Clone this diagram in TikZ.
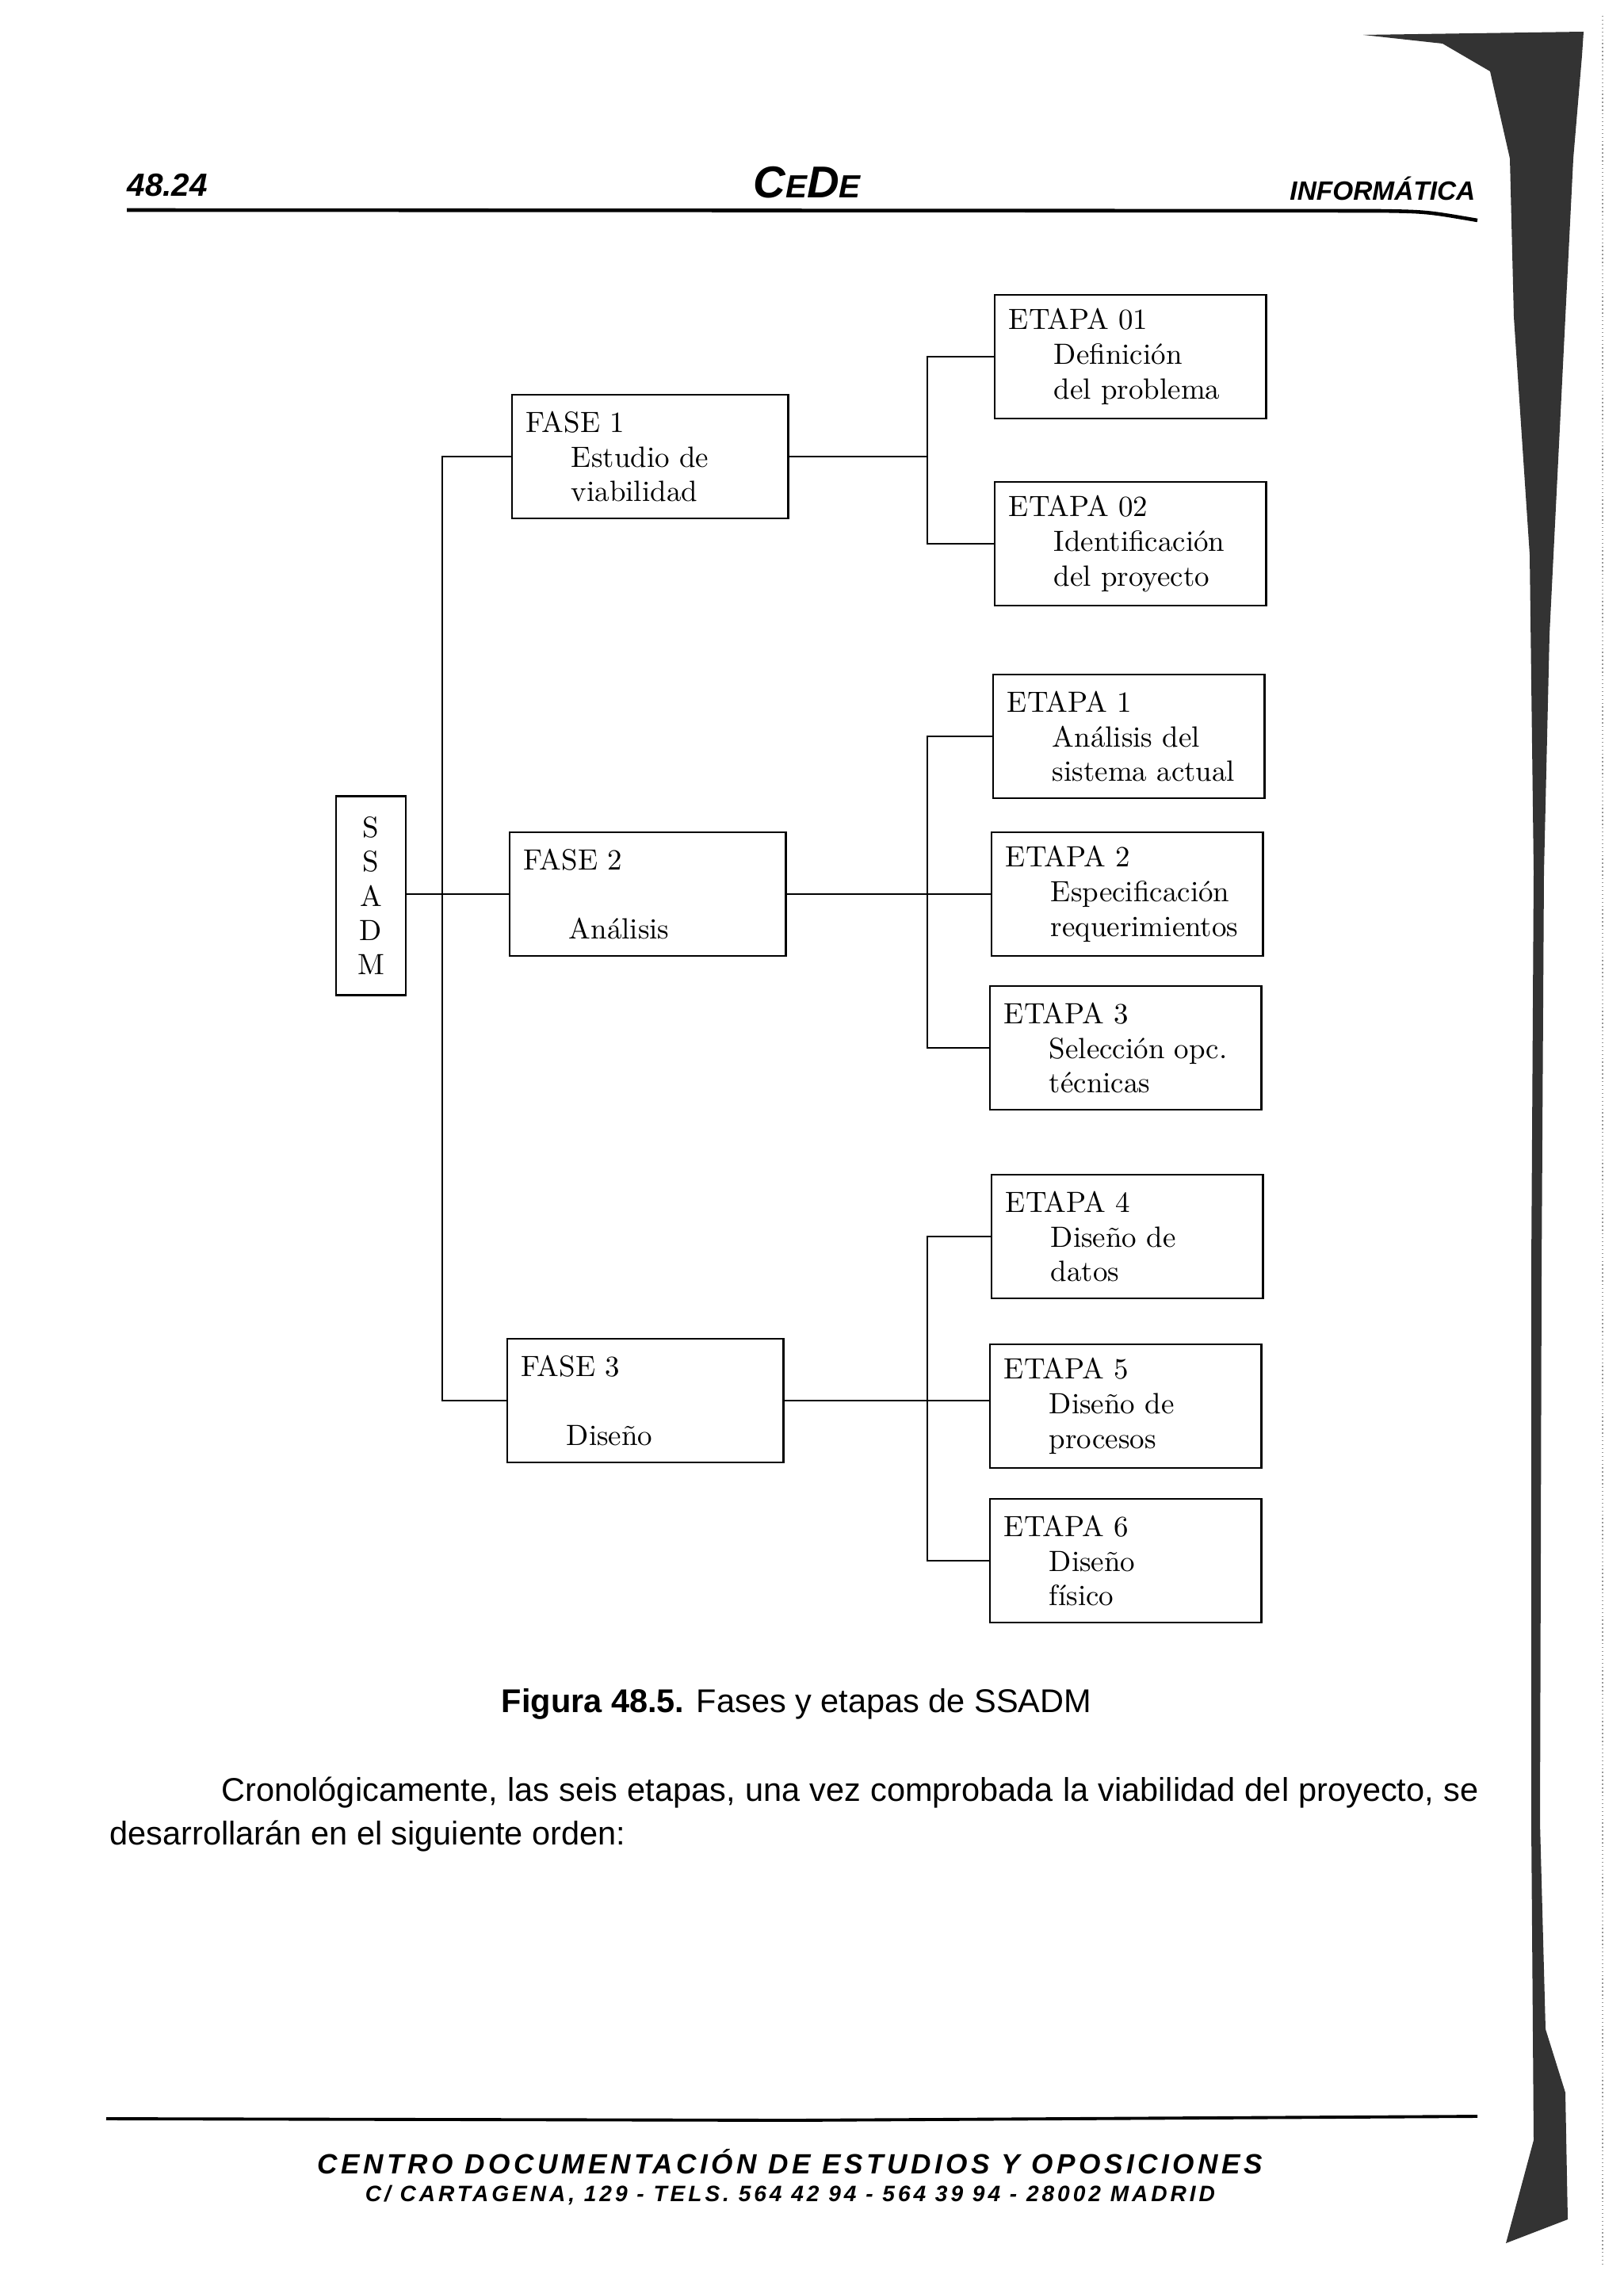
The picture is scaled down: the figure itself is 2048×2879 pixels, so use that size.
\documentclass[tikz,border=0pt]{standalone}
\usepackage{fontspec}
\newfontfamily\arialfont{Liberation Sans}
\newfontfamily\footfont[LetterSpace=13]{Liberation Sans}
\newfontfamily\dirfont[LetterSpace=14]{Liberation Sans}
\newcommand{\indt}{\hspace*{0.57cm}}

\begin{document}
\begin{tikzpicture}[x=0.01cm, y=-0.01cm,
  caja/.style={draw, line width=0.8pt, inner xsep=0.18cm, inner ysep=0pt,
    minimum height=1.56cm, align=left, font=\fontsize{10.5}{12.5}\selectfont},
  fase/.style={caja, text width=3.12cm},
  etapa/.style={caja, text width=3.06cm},
  linea/.style={line width=0.7pt},
  cabecera/.style={inner sep=0pt, font=\arialfont\bfseries\itshape}]
  \useasboundingbox (0,0) rectangle (2048,2879);

  % cabecera de pagina
  \node[cabecera, anchor=base west, font=\arialfont\bfseries\itshape\fontsize{11.5}{14}\selectfont] (pag) at (160,248) {48.24};
  \node[cabecera, anchor=base] (cede) at (1018,250)
    {{\fontsize{16}{16}\selectfont C}{\fontsize{11.5}{12}\selectfont E}{\fontsize{16}{16}\selectfont D}{\fontsize{11.5}{12}\selectfont E}};
  \node[cabecera, anchor=base east, font=\arialfont\bfseries\itshape\fontsize{9.5}{12}\selectfont] (area) at (1862,253) {INFORMÁTICA};
  \draw[line width=1.3pt] (160,265) -- (1740,266) .. controls (1800,267) .. (1864,278);

  % arbol de fases y etapas
  \node[draw, line width=0.8pt, inner sep=0pt, text width=0.88cm, align=center,
    minimum height=2.51cm, font=\fontsize{10.5}{12.3}\selectfont] (ssadm) at (468,1130) {S\\S\\A\\D\\M};

  \node[fase] (f1) at (820,576) {FASE 1\\\indt Estudio de\\\indt viabilidad};
  \node[fase] (f2) at (817,1128) {FASE 2\\ \mbox{}\\\indt Análisis};
  \node[fase] (f3) at (814,1767) {FASE 3\\ \mbox{}\\\indt Diseño};

  \node[etapa] (e01) at (1426,450) {ETAPA 01\\\indt Definición\\\indt del problema};
  \node[etapa] (e02) at (1426,686) {ETAPA 02\\\indt Identificación\\\indt del proyecto};
  \node[etapa] (e1) at (1424,929) {ETAPA 1\\\indt Análisis del\\\indt sistema actual};
  \node[etapa] (e2) at (1422,1128) {ETAPA 2\\\indt Especificación\\\indt requerimientos};
  \node[etapa] (e3) at (1420,1322) {ETAPA 3\\\indt Selección opc.\\\indt técnicas};
  \node[etapa] (e4) at (1422,1560) {ETAPA 4\\\indt Diseño de\\\indt datos};
  \node[etapa] (e5) at (1420,1774) {ETAPA 5\\\indt Diseño de\\\indt procesos};
  \node[etapa] (e6) at (1420,1969) {ETAPA 6\\\indt Diseño\\\indt físico};

  \coordinate (tronco) at (558,0);
  \coordinate (rama) at (1170,0);
  \draw[linea] (ssadm.east |- f2.west) -- (f2.west);
  \draw[linea] (f1.west) -- (f1.west -| tronco) -- (f3.west -| tronco) -- (f3.west);
  \draw[linea] (f1.east) -- (f1.east -| rama);
  \draw[linea] (e01.west) -- (e01.west -| rama) -- (e02.west -| rama) -- (e02.west);
  \draw[linea] (f2.east) -- (f2.east -| e2.west);
  \draw[linea] (e1.west) -- (e1.west -| rama) -- (e3.west -| rama) -- (e3.west);
  \draw[linea] (f3.east) -- (f3.east -| e5.west);
  \draw[linea] (e4.west) -- (e4.west -| rama) -- (e6.west -| rama) -- (e6.west);

  % pie de figura y texto
  \node[anchor=base, inner sep=0pt, font=\arialfont\fontsize{11.8}{14}\selectfont] (pie) at (1005,2160)
    {\textbf{Figura 48.5.} Fases y etapas de SSADM};
  \node[anchor=base west, inner sep=0pt, font=\arialfont\fontsize{11.8}{14}\selectfont] (par1) at (279,2272)
    {\makebox[15.85cm][s]{Cronológicamente, las seis etapas, una vez comprobada la viabilidad del proyecto, se}};
  \node[anchor=base west, inner sep=0pt, font=\arialfont\fontsize{11.8}{14}\selectfont] (par2) at (138,2327)
    {desarrollarán en el siguiente orden:};

  % pie de pagina
  \draw[line width=1.1pt] (134,2673) -- (1000,2675) -- (1864,2670);
  \node[anchor=base, inner sep=0pt, font=\footfont\bfseries\itshape\fontsize{10}{12}\selectfont] (centro) at (997,2742)
    {CENTRO DOCUMENTACIÓN DE ESTUDIOS Y OPOSICIONES};
  \node[anchor=base, inner sep=0pt, font=\dirfont\bfseries\itshape\fontsize{8}{10}\selectfont] (dir) at (997,2777)
    {C/ CARTAGENA, 129 - TELS. 564 42 94 - 564 39 94 - 28002 MADRID};

  % sombra del lomo escaneado
  \fill[black!80] (1720,44) -- (1998,40) -- (1996,70) -- (1985,200) -- (1975,400)
    -- (1965,600) -- (1955,800) -- (1948,1100) -- (1945,1600) -- (1943,2300)
    -- (1950,2560) -- (1975,2640) -- (1978,2800) -- (1900,2830) -- (1935,2700)
    -- (1932,2300) -- (1932,1600) -- (1935,1100) -- (1930,700) -- (1910,400)
    -- (1905,200) -- (1880,90) -- (1820,55) -- cycle;
  \draw[black!40, densely dotted, line width=0.4pt] (2022,20) -- (2022,2860);
\end{tikzpicture}
\end{document}
